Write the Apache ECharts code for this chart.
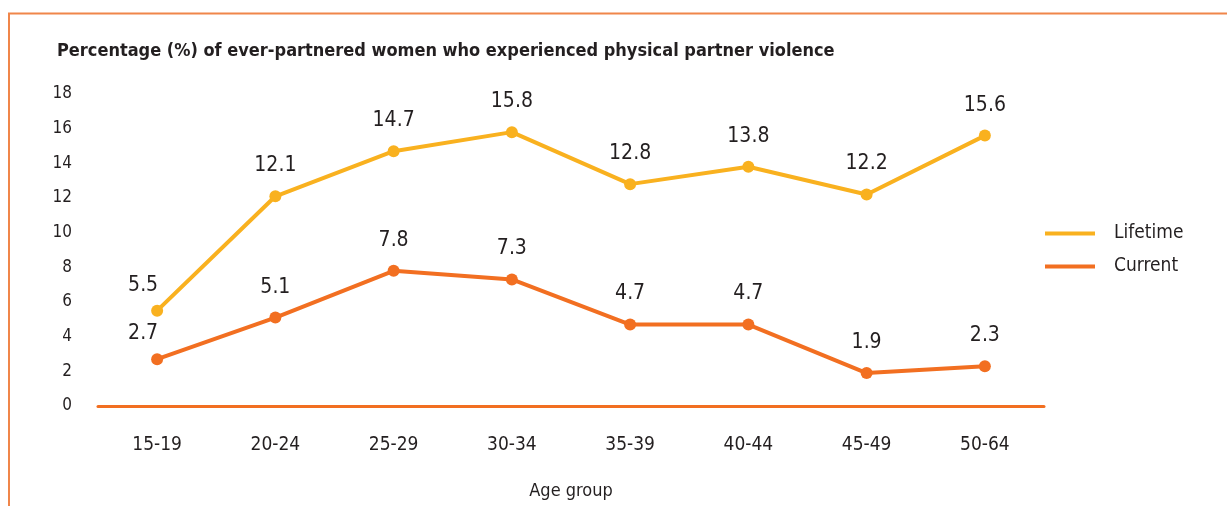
<!DOCTYPE html>
<html>
<head>
<meta charset="utf-8">
<script src="https://cdn.jsdelivr.net/npm/echarts@6/dist/echarts.min.js"></script>
<style>
  html, body { margin: 0; padding: 0; background: #fff; }
  #chart { width: 1227px; height: 506px; }
</style>
</head>
<body>
<div id="chart"></div>
<script>
const ageGroups = ["15-19", "20-24", "25-29", "30-34", "35-39", "40-44", "45-49", "50-64"];
const lifetime = [5.5, 12.1, 14.7, 15.8, 12.8, 13.8, 12.2, 15.6];
const current = [2.7, 5.1, 7.8, 7.3, 4.7, 4.7, 1.9, 2.3];

const FONT = "'Liberation Sans Narrow', 'DejaVu Sans Condensed', sans-serif";
const TEXT = "#231f20";

const chart = echarts.init(document.getElementById("chart"));

// first labels sit a bit to the left of their points
function withLabels(values) {
  return values.map((v, i) => i === 0 ? { value: v, label: { offset: [-14, 5] } } : v);
}

chart.setOption({
  backgroundColor: "#fff",
  animation: false,
  textStyle: { fontFamily: FONT },
  title: {
    text: "Percentage (%) of ever-partnered women who experienced physical partner violence",
    left: 52,
    top: 37,
    textStyle: { fontFamily: FONT, fontWeight: "bold", fontSize: 18, color: TEXT },
  },
  graphic: [
    {
      type: "rect",
      shape: { x: 9, y: 13.5, width: 1240, height: 520 },
      style: { fill: "none", stroke: "#f0864a", lineWidth: 2 },
    },
  ],
  legend: {
    data: ["Lifetime", "Current"],
    orient: "vertical",
    left: 1040,
    top: 219,
    icon: "rect",
    itemWidth: 50,
    itemHeight: 4,
    itemGap: 14,
    textStyle: { fontFamily: FONT, fontSize: 19, color: TEXT, padding: [0, 0, 0, 14] },
    selectedMode: false,
  },
  grid: { left: 98, right: 183, top: 94, bottom: 100, outerBoundsMode: "none" },
  xAxis: {
    type: "category",
    data: ageGroups,
    name: "Age group",
    nameLocation: "middle",
    nameGap: 76,
    nameTextStyle: { fontFamily: FONT, fontSize: 18, color: TEXT },
    axisLine: { lineStyle: { color: "#f26f21", width: 3 } },
    axisTick: { show: false },
    axisLabel: { fontFamily: FONT, fontSize: 19, color: TEXT, margin: 30 },
  },
  yAxis: {
    type: "value",
    min: 0,
    max: 18,
    interval: 2,
    axisLine: { show: false },
    axisTick: { show: false },
    splitLine: { show: false },
    axisLabel: { fontFamily: FONT, fontSize: 17, color: TEXT, margin: 26 },
  },
  series: [
    {
      name: "Lifetime",
      type: "line",
      data: withLabels(lifetime),
      symbol: "circle",
      symbolSize: 12,
      lineStyle: { color: "#f9b11f", width: 4 },
      itemStyle: { color: "#f9b11f" },
      label: { show: true, position: "top", distance: 14, fontFamily: FONT, fontSize: 21, color: TEXT },
    },
    {
      name: "Current",
      type: "line",
      data: withLabels(current),
      symbol: "circle",
      symbolSize: 12,
      lineStyle: { color: "#f26f21", width: 4 },
      itemStyle: { color: "#f26f21" },
      label: { show: true, position: "top", distance: 14, fontFamily: FONT, fontSize: 21, color: TEXT },
    },
  ],
});
</script>
</body>
</html>
